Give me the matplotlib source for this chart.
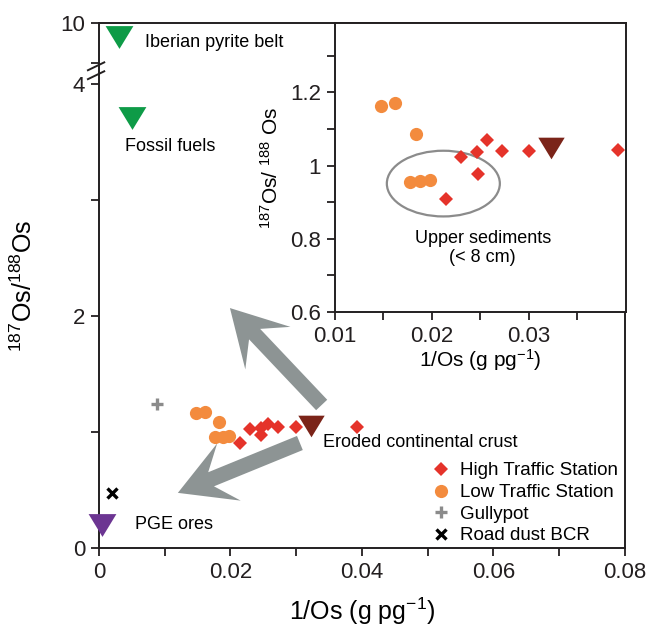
import numpy as np
import matplotlib
matplotlib.use("Agg")
import matplotlib.pyplot as plt
from matplotlib.patches import Ellipse, FancyArrow

# High traffic station (1/Os, 187Os/188Os)
HIGH_X = [0.0230, 0.0246, 0.0257, 0.0272, 0.0300, 0.0392, 0.0247, 0.0214]
HIGH_Y = [1.025, 1.037, 1.071, 1.040, 1.041, 1.044, 0.976, 0.908]

# Low traffic station
LOW_X = [0.0147, 0.0162, 0.0183, 0.0177, 0.0188, 0.0198]
LOW_Y = [1.164, 1.172, 1.086, 0.956, 0.959, 0.961]

GULLY_X = [0.0088]
GULLY_Y = [1.241]

DUST_X = [0.0020]
DUST_Y = [0.471]

# End members
CRUST = (0.0323, 1.048)
IBERIAN = (0.0031, 9.65)
FOSSIL = (0.0050, 3.70)
PGE = (0.0005, 0.20)

# broken y axis: [0, 4.1] then [8.78, 10] compressed
BREAK_LO = 4.1
BREAK_HI = 8.78
UPPER_RATIO = 0.345

RED = "#e5332a"
ORANGE = "#f38b3e"
GREY = "#8b8b8b"
BROWN = "#7b2419"
GREEN = "#0e9b47"
PURPLE = "#6c3592"
ARROW = "#8d9494"
INK = "#231f20"

TRI = [(-1, 0.82), (1, 0.82), (0, -0.82)]

plt.rcParams["font.family"] = ["Liberation Sans", "DejaVu Sans"]
plt.rcParams["mathtext.fontset"] = "custom"
plt.rcParams["mathtext.rm"] = "Liberation Sans"
plt.rcParams["mathtext.it"] = "Liberation Sans:italic"
plt.rcParams["axes.edgecolor"] = INK
plt.rcParams["xtick.color"] = INK
plt.rcParams["ytick.color"] = INK


def _fwd(y):
    top = BREAK_LO + 0.001 + (20 - BREAK_HI) * UPPER_RATIO
    return np.interp(y, [-10, BREAK_LO, BREAK_HI, 20],
                     [-10, BREAK_LO, BREAK_LO + 0.001, top])


def _inv(y):
    top = BREAK_LO + 0.001 + (20 - BREAK_HI) * UPPER_RATIO
    return np.interp(y, [-10, BREAK_LO, BREAK_LO + 0.001, top],
                     [-10, BREAK_LO, BREAK_HI, 20])


def style_ticks(ax):
    ax.tick_params(which="major", direction="out", length=6, width=1.3,
                   labelsize=16, pad=4)
    ax.tick_params(which="minor", direction="out", length=6, width=1.3)
    for s in ax.spines.values():
        s.set_linewidth(1.4)


def plotData(ax, legend=False):
    ax.plot(HIGH_X, HIGH_Y, "D", color=RED, ms=7, mew=0,
            label="High Traffic Station", zorder=4)
    ax.plot(LOW_X, LOW_Y, "o", color=ORANGE, ms=9.5, mew=0,
            label="Low Traffic Station", zorder=4)
    if legend:
        ax.plot(GULLY_X, GULLY_Y, "+", color=GREY, ms=9, mew=2.4,
                label="Gullypot", zorder=4)
        ax.plot(DUST_X, DUST_Y, "x", color="black", ms=7, mew=2.4,
                label="Road dust BCR", zorder=4)
    ax.plot([CRUST[0]], [CRUST[1]], marker=TRI, color=BROWN, ms=19,
            mew=0, ls="none", zorder=5)


def plotMain(fig):
    ax = fig.add_axes([0.1518, 0.1274, 0.8067, 0.836])
    ax.set_yscale("function", functions=(_fwd, _inv))
    ax.set_xlim(0, 0.08)
    ax.set_ylim(0, 10)

    # Cosmetics
    ax.set_xticks([0, 0.02, 0.04, 0.06, 0.08])
    ax.set_xticklabels(["0", "0.02", "0.04", "0.06", "0.08"])
    ax.set_xticks([0.01, 0.03, 0.05, 0.07], minor=True)
    ax.set_yticks([0, 1, 2, 3, 4, 9, 10])
    ax.set_yticklabels(["0", "", "2", "", "4", "", "10"])
    ax.yaxis.set_minor_locator(matplotlib.ticker.NullLocator())
    style_ticks(ax)
    ax.set_xlabel("1/Os (g pg$^{-1}$)", fontsize=18, labelpad=9)
    ax.set_ylabel("$^{187}$Os/$^{188}$Os", fontsize=18, labelpad=17)

    # break marks on the y axis
    for y0 in (0.910, 0.893):
        ax.plot([-0.021, 0.010], [y0, y0 + 0.015], color=INK, lw=1.4,
                transform=ax.transAxes, clip_on=False, zorder=6)

    plotData(ax, legend=True)

    # end members
    for (x, y), c in ((IBERIAN, GREEN), (FOSSIL, GREEN), (PGE, PURPLE)):
        ax.plot([x], [y], marker=TRI, color=c, ms=20, mew=0, ls="none",
                zorder=5, clip_on=False)

    ax.text(0.0070, 9.52, "Iberian pyrite belt", fontsize=13, va="center")
    ax.text(0.0040, 3.46, "Fossil fuels", fontsize=13, va="center")
    ax.text(0.0055, 0.20, "PGE ores", fontsize=13, va="center")
    ax.text(0.0341, 0.905, "Eroded continental crust", fontsize=13,
            va="center")

    # mixing arrows
    opt = {"width": 0.029, "head_width": 0.118, "head_length": 0.105,
           "overhang": 0.35, "length_includes_head": True,
           "color": ARROW, "lw": 0, "transform": ax.transAxes, "zorder": 3}
    ax.add_patch(FancyArrow(0.4234, 0.2724, 0.249 - 0.4234,
                            0.457 - 0.2724, **opt))
    ax.add_patch(FancyArrow(0.382, 0.200, 0.150 - 0.382,
                            0.105 - 0.200, **opt))

    ax.legend(loc="lower left", bbox_to_anchor=(0.632, 0.007),
              frameon=False, fontsize=13.5, handlelength=1.0,
              handletextpad=0.5, labelspacing=0.24, borderpad=0,
              borderaxespad=0, numpoints=1)
    return ax


def plotInset(fig):
    ax = fig.add_axes([0.5138, 0.5032, 0.4463, 0.4602], zorder=5)
    ax.set_xlim(0.01, 0.04)
    ax.set_ylim(0.6, 1.39)

    # Cosmetics
    ax.set_xticks([0.01, 0.02, 0.03])
    ax.set_xticklabels(["0.01", "0.02", "0.03"])
    ax.set_xticks([0.015, 0.025, 0.035], minor=True)
    ax.set_yticks([0.6, 0.8, 1.0, 1.2])
    ax.set_yticklabels(["0.6", "0.8", "1", "1.2"])
    ax.set_yticks([0.7, 0.9, 1.1, 1.3], minor=True)
    style_ticks(ax)
    ax.set_xlabel("1/Os (g pg$^{-1}$)", fontsize=15, labelpad=0)
    ax.set_ylabel("$^{187}$Os/ $^{188}$ Os", fontsize=15, labelpad=6)

    plotData(ax)

    ax.add_patch(Ellipse((0.02117, 0.951), 0.01165, 0.1796, fill=False,
                         edgecolor=GREY, lw=1.6, zorder=3))
    ax.text(0.02523, 0.775, "Upper sediments\n(< 8 cm)", fontsize=13,
            ha="center", va="center", multialignment="center")
    return ax


def main():
    fig = plt.figure(figsize=(6.52, 6.28), dpi=100)
    plotMain(fig)
    plotInset(fig)
    fig.savefig("out.png", dpi=100)


if __name__ == "__main__":
    main()
